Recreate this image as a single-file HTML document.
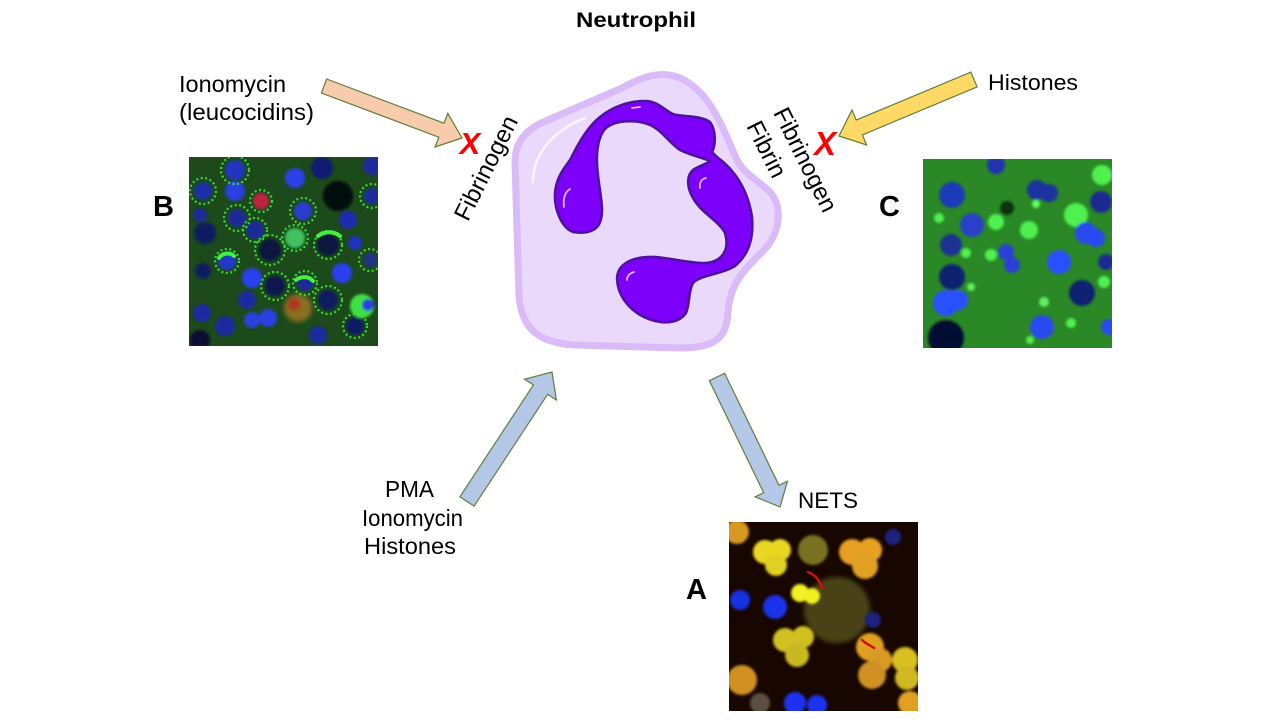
<!DOCTYPE html>
<html>
<head>
<meta charset="utf-8">
<style>
html,body{margin:0;padding:0;background:#fff;}
svg{display:block;}
text{font-family:"Liberation Sans",Arial,sans-serif;fill:#000;}
</style>
</head>
<body>
<svg width="1280" height="720" viewBox="0 0 1280 720" xmlns="http://www.w3.org/2000/svg">
<defs>
<clipPath id="cB"><rect x="189" y="157" width="189" height="189"/></clipPath>
<clipPath id="cC"><rect x="923" y="159" width="189" height="189"/></clipPath>
<clipPath id="cA"><rect x="729" y="522" width="189" height="189"/></clipPath>
<filter id="soft" x="-20%" y="-20%" width="140%" height="140%"><feGaussianBlur stdDeviation="1.2"/></filter>
<filter id="soft2" x="-20%" y="-20%" width="140%" height="140%"><feGaussianBlur stdDeviation="2.5"/></filter>
</defs>
<rect width="1280" height="720" fill="#fff"/>

<!-- Title -->
<text x="576" y="27" font-size="21" font-weight="bold" textLength="120" lengthAdjust="spacingAndGlyphs">Neutrophil</text>

<!-- Top-left labels -->
<text x="179" y="92" font-size="23" textLength="107" lengthAdjust="spacingAndGlyphs">Ionomycin</text>
<text x="179" y="120" font-size="23" textLength="135" lengthAdjust="spacingAndGlyphs">(leucocidins)</text>

<!-- Top-right label -->
<text x="988" y="90" font-size="22" textLength="90" lengthAdjust="spacingAndGlyphs">Histones</text>

<!-- PMA block -->
<text x="385" y="497" font-size="23" textLength="49" lengthAdjust="spacingAndGlyphs">PMA</text>
<text x="362" y="526" font-size="23" textLength="101" lengthAdjust="spacingAndGlyphs">Ionomycin</text>
<text x="364" y="554" font-size="23" textLength="92" lengthAdjust="spacingAndGlyphs">Histones</text>

<!-- NETS -->
<text x="798" y="508" font-size="22" textLength="60" lengthAdjust="spacingAndGlyphs">NETS</text>

<!-- Letters -->
<text x="153" y="216" font-size="29" font-weight="bold">B</text>
<text x="879" y="216" font-size="29" font-weight="bold">C</text>
<text x="686" y="599" font-size="29" font-weight="bold">A</text>

<!-- Arrows -->
<polygon points="326.6,79 444,123.2 447.8,113.4 462,138 435,147 438.8,137.2 321.4,93" fill="#f8cbad" stroke="#5f7f3a" stroke-width="1.2"/>
<polygon points="970.9,72.1 856.2,120.1 852,110 839,136 866.6,145 862.4,134.9 977.1,86.9" fill="#ffd966" stroke="#5f7f3a" stroke-width="1.2"/>
<polygon points="459.9,496.8 533.4,384.9 524.6,379.2 552,372 556.4,400 547.6,394.3 474.1,506.2" fill="#b4c7e7" stroke="#5f7f3a" stroke-width="1.2"/>
<polygon points="724.65,373.3 778.95,485.3 787.5,481.2 780,507 755.1,496.8 763.65,492.7 709.35,380.7" fill="#b4c7e7" stroke="#5f7f3a" stroke-width="1.2"/>

<!-- Red X marks -->
<text x="470" y="154" font-size="31" font-weight="bold" font-style="italic" text-anchor="middle" style="fill:#ff0000">X</text>
<text x="825" y="155" font-size="33" font-weight="bold" font-style="italic" text-anchor="middle" style="fill:#ff0000">X</text>

<!-- Rotated labels -->
<g transform="translate(486,168) rotate(-63.5)">
  <text x="0" y="8" font-size="24" text-anchor="middle">Fibrinogen</text>
</g>
<g transform="translate(780,109) rotate(63.5)">
  <text x="0" y="8" font-size="24">Fibrinogen</text>
  <text x="0" y="38" font-size="24">Fibrin</text>
</g>

<!-- Neutrophil cell -->
<path d="M515,162 C515,140 528,128 548,120 L622,88 C640,78 662,68 684,80 C702,90 712,106 722,126 L737,160 C744,174 758,180 770,192 C784,208 780,236 760,254 C742,272 730,285 728,312 C727,338 715,348 680,348 L575,345 C538,343 521,328 519,295 Z" fill="#ebd9fc" stroke="#dabbf7" stroke-width="7" stroke-linejoin="round"/>
<path d="M533,182 C533,152 555,130 585,118" fill="none" stroke="#ffffff" stroke-width="2.5" stroke-linecap="round" opacity="0.75"/>

<!-- Nucleus -->
<path d="M573,232 C562,228 554,210 555,193 C556,178 564,168 570,160 C576,148 586,128 600,117 C612,107 628,101 645,101 C658,101 664,110 673,114 C682,117 700,115 710,122 C716,130 716,145 712,152 L717,157 C735,170 748,190 752,217 C754,240 748,255 735,266 C720,275 700,275 693,283 C688,292 690,305 686,313 C680,322 668,324 655,321 C635,316 618,300 617,279 C617,265 630,258 647,257 C665,256 685,263 705,263 C722,262 730,250 725,233 C720,222 700,212 693,198 C687,188 686,176 693,170 C698,166 705,165 710,161 C703,158 690,155 680,150 C670,144 662,130 650,125 C635,119 614,120 605,129 C596,140 596,160 598,175 C600,195 606,215 598,226 C593,232 585,234 573,232 Z" fill="#7d00fb" stroke="#4d139e" stroke-width="2.5" stroke-linejoin="round"/>
<g fill="none" stroke="#e8d8ff" stroke-width="1.8" stroke-linecap="round" opacity="0.85">
  <path d="M564,207 C563,198 565,192 570,189"/>
  <path d="M700,188 C699,182 702,179 706,178"/>
  <path d="M627,280 C627,276 630,273 634,272"/>
  <path d="M632,108 L640,107"/>
</g>

<!-- Image B -->
<g clip-path="url(#cB)">
  <rect x="189" y="157" width="189" height="189" fill="#1c4a1a"/>
  <g filter="url(#soft)">
    <circle cx="235" cy="170" r="10" fill="#2035c0"/>
    <circle cx="203" cy="191" r="9" fill="#1d2fa8"/>
    <circle cx="235" cy="191" r="10" fill="#2a3fe0"/>
    <circle cx="261" cy="201" r="8" fill="#c02040"/>
    <circle cx="295" cy="178" r="10" fill="#2a40e8"/>
    <circle cx="322" cy="168" r="11" fill="#101c70"/>
    <circle cx="338" cy="196" r="15" fill="#050a08"/>
    <circle cx="372" cy="166" r="9" fill="#1a2aa0"/>
    <circle cx="372" cy="196" r="8" fill="#1a2aa0"/>
    <circle cx="303" cy="211" r="9" fill="#2a3cd0"/>
    <circle cx="237" cy="218" r="9" fill="#1a2a98"/>
    <circle cx="200" cy="215" r="7" fill="#1a2a98"/>
    <circle cx="348" cy="220" r="9" fill="#1a2ab0"/>
    <circle cx="205" cy="233" r="11" fill="#0c1a60"/>
    <circle cx="255" cy="230" r="9" fill="#1a2a98"/>
    <circle cx="295" cy="238" r="10" fill="#40c060"/>
    <circle cx="270" cy="250" r="11" fill="#0a1440"/>
    <circle cx="328" cy="245" r="11" fill="#0a1440"/>
    <circle cx="355" cy="243" r="7" fill="#2030c0"/>
    <circle cx="227" cy="261" r="9" fill="#2438c8"/>
    <circle cx="370" cy="260" r="7" fill="#203088"/>
    <circle cx="203" cy="271" r="8" fill="#101c60"/>
    <circle cx="252" cy="278" r="10" fill="#2a40f0"/>
    <circle cx="342" cy="273" r="10" fill="#2a40f0"/>
    <circle cx="305" cy="283" r="8" fill="#1a2a98"/>
    <circle cx="275" cy="286" r="10" fill="#0a1450"/>
    <circle cx="247" cy="300" r="9" fill="#1a2aa0"/>
    <circle cx="328" cy="300" r="10" fill="#101c60"/>
    <circle cx="362" cy="306" r="12" fill="#40e040"/>
    <circle cx="368" cy="305" r="6" fill="#2a40e0"/>
    <circle cx="202" cy="313" r="9" fill="#1a2aa0"/>
    <circle cx="225" cy="326" r="10" fill="#1a2aa0"/>
    <circle cx="252" cy="320" r="8" fill="#2a40e0"/>
    <circle cx="268" cy="318" r="9" fill="#2a40e0"/>
    <circle cx="355" cy="326" r="9" fill="#101c60"/>
    <circle cx="318" cy="335" r="9" fill="#1a2aa0"/>
    <circle cx="200" cy="340" r="10" fill="#0a1030"/>
  </g>
  <circle cx="298" cy="308" r="14" fill="#8a7020" filter="url(#soft2)"/>
  <circle cx="294" cy="304" r="6" fill="#b03020" filter="url(#soft2)"/>
  <g fill="none" stroke="#3ee83e" stroke-width="2.2" stroke-dasharray="2 2.5" opacity="0.9">
    <circle cx="235" cy="170" r="14"/>
    <circle cx="203" cy="191" r="13"/>
    <circle cx="372" cy="196" r="12"/>
    <circle cx="303" cy="211" r="13"/>
    <circle cx="237" cy="218" r="13"/>
    <circle cx="255" cy="230" r="12"/>
    <circle cx="295" cy="238" r="13"/>
    <circle cx="270" cy="250" r="15"/>
    <circle cx="328" cy="245" r="14"/>
    <circle cx="227" cy="261" r="12"/>
    <circle cx="370" cy="260" r="11"/>
    <circle cx="305" cy="283" r="12"/>
    <circle cx="275" cy="286" r="14"/>
    <circle cx="328" cy="300" r="14"/>
    <circle cx="355" cy="326" r="12"/>
    <circle cx="261" cy="201" r="11"/>
  </g>
  <g fill="none" stroke="#44f044" stroke-width="4" stroke-linecap="round">
    <path d="M318,236 C324,231 334,231 340,236"/>
    <path d="M296,280 C301,276 309,276 313,281"/>
    <path d="M219,258 C222,253 230,252 234,256"/>
  </g>
</g>

<!-- Image C -->
<g clip-path="url(#cC)">
  <rect x="923" y="159" width="189" height="189" fill="#2a8826"/>
  <g filter="url(#soft)">
    <circle cx="996" cy="165" r="9" fill="#2030b0"/>
    <circle cx="952" cy="195" r="13" fill="#1e3ab8"/>
    <circle cx="1037" cy="190" r="10" fill="#1a30a0"/>
    <circle cx="1049" cy="193" r="9" fill="#1a30a0"/>
    <circle cx="1101" cy="202" r="11" fill="#1a2c90"/>
    <circle cx="972" cy="225" r="12" fill="#2a40c8"/>
    <circle cx="996" cy="222" r="8" fill="#50f050"/>
    <circle cx="1007" cy="208" r="7" fill="#0c3010"/>
    <circle cx="1029" cy="230" r="9" fill="#4ef04e"/>
    <circle cx="1076" cy="215" r="12" fill="#50f050"/>
    <circle cx="1102" cy="175" r="10" fill="#50f050"/>
    <circle cx="1086" cy="233" r="11" fill="#2a48f0"/>
    <circle cx="1096" cy="238" r="9" fill="#2a48f0"/>
    <circle cx="951" cy="245" r="11" fill="#1a3090"/>
    <circle cx="939" cy="218" r="5" fill="#50f050"/>
    <circle cx="966" cy="253" r="5" fill="#50f050"/>
    <circle cx="991" cy="255" r="6" fill="#50f050"/>
    <circle cx="1006" cy="252" r="8" fill="#2a40d8"/>
    <circle cx="1012" cy="265" r="8" fill="#2a40d8"/>
    <circle cx="1059" cy="262" r="12" fill="#2a50ff"/>
    <circle cx="1106" cy="262" r="8" fill="#1a2c90"/>
    <circle cx="952" cy="277" r="13" fill="#102070"/>
    <circle cx="971" cy="287" r="4" fill="#60f060"/>
    <circle cx="946" cy="303" r="13" fill="#2a50ff"/>
    <circle cx="958" cy="300" r="10" fill="#2a50ff"/>
    <circle cx="1082" cy="293" r="13" fill="#102070"/>
    <circle cx="1104" cy="282" r="6" fill="#50f050"/>
    <circle cx="1044" cy="302" r="5" fill="#60f060"/>
    <circle cx="1042" cy="327" r="12" fill="#2a48f0"/>
    <circle cx="946" cy="338" r="18" fill="#061030"/>
    <circle cx="1071" cy="323" r="5" fill="#50f050"/>
    <circle cx="1109" cy="327" r="8" fill="#2a48f0"/>
    <circle cx="1030" cy="340" r="4" fill="#50f050"/>
    <circle cx="1036" cy="204" r="4" fill="#60ff60"/>
  </g>
</g>

<!-- Image A -->
<g clip-path="url(#cA)">
  <rect x="729" y="522" width="189" height="189" fill="#170700"/>
  <circle cx="837" cy="610" r="33" fill="#4a4318" filter="url(#soft2)"/>
  <g filter="url(#soft)">
    <circle cx="737" cy="532" r="12" fill="#d89820"/>
    <circle cx="765" cy="552" r="12" fill="#e8d820"/>
    <circle cx="780" cy="550" r="11" fill="#e8d820"/>
    <circle cx="776" cy="565" r="11" fill="#e0d020"/>
    <circle cx="813" cy="550" r="15" fill="#7a7020"/>
    <circle cx="852" cy="552" r="13" fill="#e8a020"/>
    <circle cx="870" cy="550" r="12" fill="#e8a020"/>
    <circle cx="865" cy="566" r="13" fill="#e0a020"/>
    <circle cx="800" cy="593" r="9" fill="#f0f020"/>
    <circle cx="812" cy="596" r="8" fill="#f0f020"/>
    <circle cx="740" cy="600" r="10" fill="#1830e0"/>
    <circle cx="775" cy="607" r="12" fill="#1a30e8"/>
    <circle cx="873" cy="620" r="8" fill="#1a2080"/>
    <circle cx="785" cy="640" r="12" fill="#d0c020"/>
    <circle cx="803" cy="637" r="11" fill="#d0c020"/>
    <circle cx="797" cy="655" r="12" fill="#c8b820"/>
    <circle cx="870" cy="647" r="14" fill="#e0a020"/>
    <circle cx="880" cy="660" r="12" fill="#d89a20"/>
    <circle cx="905" cy="660" r="13" fill="#d8c020"/>
    <circle cx="907" cy="678" r="12" fill="#d0b820"/>
    <circle cx="872" cy="675" r="14" fill="#d09020"/>
    <circle cx="742" cy="680" r="15" fill="#d09020"/>
    <circle cx="760" cy="703" r="10" fill="#5a5040"/>
    <circle cx="795" cy="703" r="11" fill="#1a30f0"/>
    <circle cx="817" cy="705" r="10" fill="#1a30f0"/>
    <circle cx="910" cy="703" r="12" fill="#e0a020"/>
    <circle cx="893" cy="537" r="8" fill="#1a2080"/>
  </g>
  <g fill="none" stroke="#d01010" stroke-width="2.5" stroke-linecap="round">
    <path d="M808,572 C815,575 820,580 822,588"/>
    <path d="M862,640 C866,644 870,645 874,648"/>
  </g>
</g>
</svg>
</body>
</html>
